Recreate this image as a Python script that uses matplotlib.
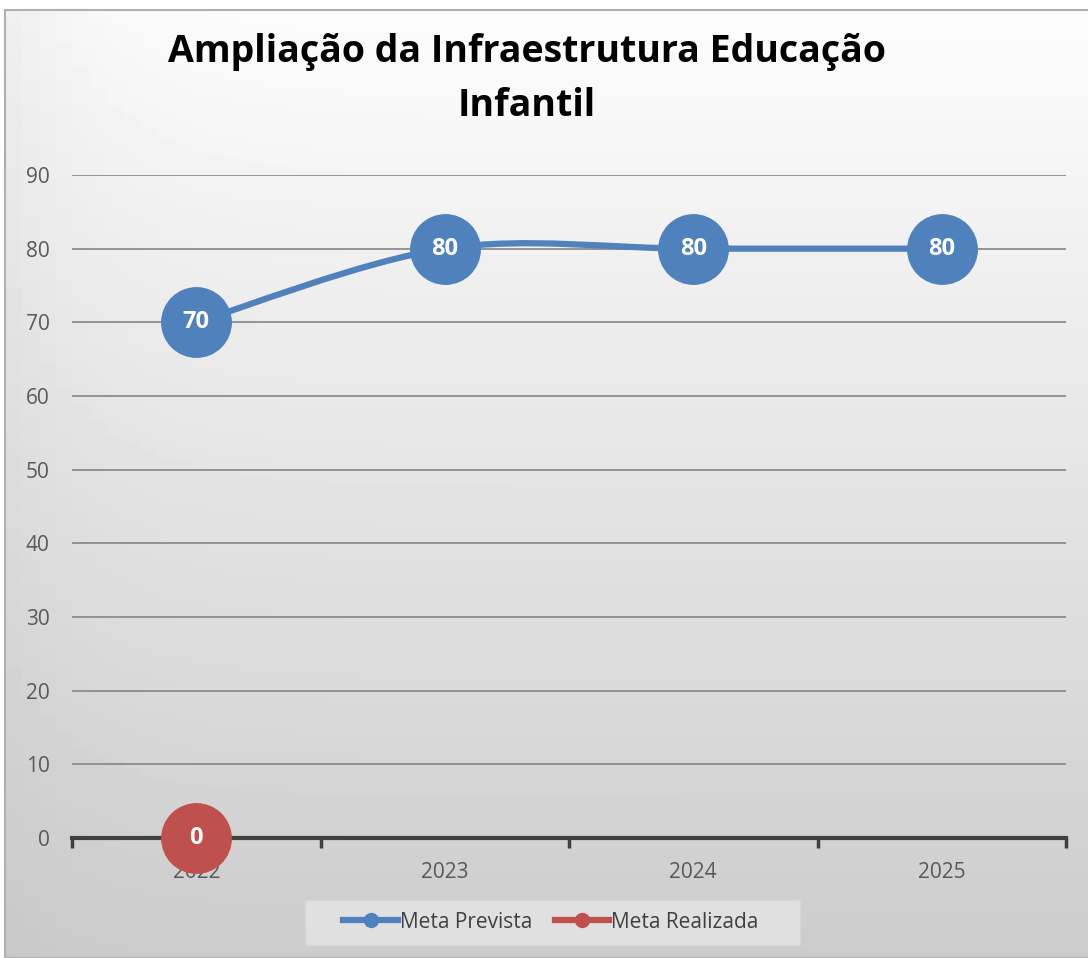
import numpy as np
import matplotlib
matplotlib.use('Agg')
import matplotlib.pyplot as plt
from matplotlib.path import Path
from matplotlib.patches import PathPatch, Rectangle
from matplotlib.lines import Line2D

plt.rcParams['font.family'] = ['Open Sans', 'DejaVu Sans']

title = 'Ampliação da Infraestrutura Educação\nInfantil'
anos = ['2022', '2023', '2024', '2025']
meta_prevista = [70, 80, 80, 80]
meta_realizada = [0, None, None, None]
blue = '#4F81BD'
red = '#C0504D'

fig = plt.figure(figsize=(10.88, 9.58), dpi=100)

# background panel with gradient
bg = fig.add_axes([0, 0, 1, 1], zorder=-10)
bg.set_axis_off()
grad = np.linspace(0.99, 0.80, 256)[:, None] * np.ones((1, 64))
xs = np.linspace(0, 1, 64)[None, :]
grad = grad - 0.05 * np.exp(-xs / 0.08) * np.linspace(1, 0.3, 256)[:, None]
bg.imshow(grad, cmap='gray', vmin=0, vmax=1, aspect='auto',
          extent=[5 / 1088, 1, 0, 1 - 10 / 958])
bg.set_xlim(0, 1)
bg.set_ylim(0, 1)
bg.add_patch(Rectangle((5 / 1088, 0), 1, 1 - 10 / 958, fill=False,
                       edgecolor='#b0b0b0', lw=1.5))
# legend box
bg.add_patch(Rectangle((305 / 1088, 1 - 945 / 958), 495 / 1088, 45 / 958,
                       facecolor='#e0e0e0', edgecolor='#d6d6d6', lw=1))

ax = fig.add_axes([72 / 1088, 1 - 838 / 958, 994 / 1088, 663 / 958])
ax.patch.set_alpha(0)
x = np.arange(len(anos))
ax.set_xlim(-0.5, 3.5)
ax.set_ylim(0, 90)
ax.set_yticks(range(0, 91, 10))
ax.yaxis.grid(True, color='#8c8c8c', lw=1.3)
ax.set_axisbelow(True)
for s in ['top', 'right', 'left']:
    ax.spines[s].set_visible(False)
ax.spines['bottom'].set_color('#404040')
ax.spines['bottom'].set_linewidth(3)
ax.tick_params(axis='y', length=0, labelsize=15, labelcolor='#595959', pad=16)
ax.set_xticks(x)
ax.set_xticklabels(anos)
ax.set_xticks(np.arange(-0.5, 4, 1), minor=True)
ax.tick_params(axis='x', which='major', length=0, labelsize=15,
               labelcolor='#595959', pad=17)
ax.tick_params(axis='x', which='minor', length=7, width=2.5, color='#404040',
               direction='out')

# smoothed line (bezier control points from the data)
pts = np.column_stack([x, meta_prevista]).astype(float)
ext = np.vstack([pts[0], pts, pts[-1]])
verts = [tuple(pts[0])]
codes = [Path.MOVETO]
for i in range(len(pts) - 1):
    p0, p1, p2, p3 = ext[i], ext[i + 1], ext[i + 2], ext[i + 3]
    c1 = p1 + (p2 - p0) / 6
    c2 = p2 - (p3 - p1) / 6
    verts += [tuple(c1), tuple(c2), tuple(p2)]
    codes += [Path.CURVE4] * 3
ax.add_patch(PathPatch(Path(verts, codes), fill=False, edgecolor=blue,
                       lw=4.5, capstyle='round', zorder=3))
ax.plot(x, meta_prevista, 'o', color=blue, ms=50, zorder=4, clip_on=False)
for xi, v in zip(x, meta_prevista):
    ax.text(xi, v, str(v), color='white', fontsize=17, fontweight='bold',
            ha='center', va='center', zorder=5)

for xi, v in zip(x, meta_realizada):
    if v is None:
        continue
    ax.plot(xi, v, 'o', color=red, ms=50, zorder=6, clip_on=False)
    ax.text(xi, v, str(v), color='white', fontsize=17, fontweight='bold',
            ha='center', va='center', zorder=7)

handles = [Line2D([], [], color=blue, lw=4.5, marker='o', ms=10),
           Line2D([], [], color=red, lw=4.5, marker='o', ms=10)]
leg = fig.legend(handles, ['Meta Prevista', 'Meta Realizada'], loc='center',
                 bbox_to_anchor=(551 / 1088, 1 - 922 / 958), ncol=2,
                 fontsize=15, frameon=False, handlelength=2.6,
                 handletextpad=0.1, columnspacing=1.1)
for t in leg.get_texts():
    t.set_color('#404040')

fig.text(527 / 1088, 1 - 79 / 958, title, ha='center', va='center',
         fontsize=27, fontweight='bold', linespacing=1.52)

fig.savefig('out.png', dpi=100)
